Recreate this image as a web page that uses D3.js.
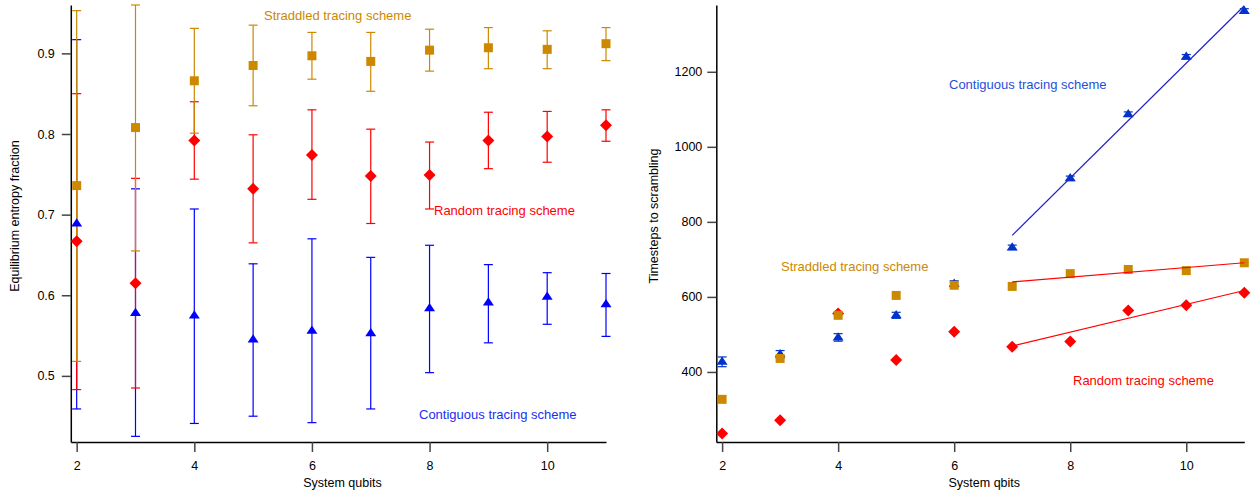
<!DOCTYPE html>
<html>
<head>
<meta charset="utf-8">
<script src="https://cdn.jsdelivr.net/npm/d3@7"></script>
<style>
  body { margin: 0; background: #fff; }
  text { font-family: Arial, "Liberation Sans", sans-serif; }
</style>
</head>
<body>
<div id="chart"></div>
<script>
var width = 1258,
    height = 491;

// system size (qubits)
var qubits = [2, 3, 4, 5, 6, 7, 8, 9, 10, 11];

// left panel: equilibrium entropy fraction, mean and error bar ends
var straddledFrac = [0.736, 0.808, 0.866, 0.885, 0.897, 0.890, 0.904, 0.907, 0.905, 0.912];
var straddledHi   = [0.953, 0.960, 0.931, 0.935, 0.926, 0.926, 0.930, 0.932, 0.928, 0.932];
var straddledLo   = [0.518, 0.655, 0.801, 0.835, 0.868, 0.853, 0.878, 0.881, 0.881, 0.891];

var randomFrac = [0.667, 0.615, 0.792, 0.732, 0.774, 0.748, 0.749, 0.792, 0.797, 0.811];
var randomHi   = [0.850, 0.745, 0.840, 0.799, 0.830, 0.806, 0.790, 0.827, 0.828, 0.830];
var randomLo   = [0.483, 0.485, 0.744, 0.665, 0.719, 0.689, 0.707, 0.757, 0.765, 0.791];

var contigFrac = [0.689, 0.578, 0.575, 0.545, 0.556, 0.553, 0.584, 0.591, 0.598, 0.589];
var contigHi   = [0.917, 0.732, 0.707, 0.639, 0.670, 0.647, 0.662, 0.638, 0.628, 0.627];
var contigLo   = [0.459, 0.425, 0.441, 0.450, 0.442, 0.459, 0.504, 0.541, 0.564, 0.549];

// right panel: timesteps to scrambling
var contigSteps    = [427, 447, 492, 551, 635, 732, 916, 1087, 1240, 1362];
var contigStepsErr = [13, 10, 10, 8, 8, 6, 6, 6, 6, 6];
var straddledSteps = [327, 436, 551, 604, 631, 628, 662, 673, 670, 691];
var randomSteps    = [236, 271, 556, 432, 507, 467, 481, 564, 578, 611];

// fitted lines (end points)
var contigFit    = [[7, 764], [11, 1376]];
var straddledFit = [[7, 640], [11, 691]];
var randomFit    = [[7, 469], [11, 617]];

var fracTicks = [0.5, 0.6, 0.7, 0.8, 0.9];
var stepTicks = [400, 600, 800, 1000, 1200];
var qubitTicks = [2, 4, 6, 8, 10];

var gold = "#cc8800", red = "#ff0000", blue = "#0000ff", blue2 = "#0033cc";

var svg = d3.select("#chart").append("svg")
    .attr("width", width)
    .attr("height", height);

// marker shapes
function square(s) { return "M" + (-s) + "," + (-s) + "h" + 2 * s + "v" + 2 * s + "h" + (-2 * s) + "Z"; }
function diamond(s) { return "M0," + (-s) + "L" + s + ",0L0," + s + "L" + (-s) + ",0Z"; }
function triangle(s) { return "M0," + (-s * 1.05) + "L" + (s * 1.1) + "," + (s * 0.6) + "L" + (-s * 1.1) + "," + (s * 0.6) + "Z"; }

function rows(means, lo, hi) {
    return qubits.map(function (q, i) {
        return {q: q, v: means[i], lo: lo ? lo[i] : null, hi: hi ? hi[i] : null};
    });
}

function drawAxes(g, x, y, yTicks, yFmt, yPad, xTitle, yTitle, titleX) {
    var xAxis = g.append("g")
        .attr("transform", "translate(0," + y.range()[0] + ")")
        .call(d3.axisBottom(x).tickValues(qubitTicks).tickSize(10).tickSizeOuter(0).tickPadding(9));
    var yAxis = g.append("g")
        .attr("transform", "translate(" + x.range()[0] + ",0)")
        .call(d3.axisLeft(y).tickValues(yTicks).tickFormat(yFmt).tickSize(9).tickSizeOuter(0).tickPadding(yPad));
    [xAxis, yAxis].forEach(function (a) {
        a.select(".domain").attr("stroke", "#000").attr("stroke-width", 1.5);
        a.selectAll(".tick line").attr("stroke", "#444").attr("stroke-width", 1.5);
        a.selectAll(".tick text").attr("fill", "#000").style("font-size", "12.5px")
            .style("font-family", "Arial, 'Liberation Sans', sans-serif");
    });
    var xm = (x.range()[0] + x.range()[1]) / 2;
    g.append("text")
        .attr("x", xm + 4).attr("y", 487)
        .attr("text-anchor", "middle")
        .style("font-size", "12.5px")
        .text(xTitle);
    g.append("text")
        .attr("transform", "translate(" + titleX + ",216) rotate(-90)")
        .attr("text-anchor", "middle")
        .style("font-size", "12.5px")
        .text(yTitle);
}

function drawErrors(g, data, x, y, color, cap) {
    var eb = g.append("g").attr("stroke", color).attr("stroke-width", 1.2).attr("fill", "none");
    data.forEach(function (d) {
        var cx = x(d.q);
        eb.append("line").attr("x1", cx).attr("x2", cx).attr("y1", y(d.lo)).attr("y2", y(d.hi));
        eb.append("line").attr("x1", cx - cap).attr("x2", cx + cap).attr("y1", y(d.lo)).attr("y2", y(d.lo));
        eb.append("line").attr("x1", cx - cap).attr("x2", cx + cap).attr("y1", y(d.hi)).attr("y2", y(d.hi));
    });
}

function drawMarkers(g, data, x, y, color, shape) {
    g.append("g").selectAll("path")
        .data(data)
        .enter().append("path")
        .attr("transform", function (d) { return "translate(" + x(d.q) + "," + y(d.v) + ")"; })
        .attr("d", shape)
        .attr("fill", color);
}

function label(g, x, y, txt, color) {
    g.append("text")
        .attr("x", x).attr("y", y)
        .attr("fill", color)
        .style("font-size", "13px")
        .text(txt);
}

// ---------- left panel ----------
var left = svg.append("g");
var xL = d3.scaleLinear().domain([1.9, 11]).range([70.8, 606]);
var yL = d3.scaleLinear().domain([0.418, 0.96]).range([442, 5]);

drawAxes(left, xL, yL, fracTicks, d3.format(".1f"), 7, "System qubits", "Equilibrium entropy fraction", 19);

var contigL = rows(contigFrac, contigLo, contigHi);
var randomL = rows(randomFrac, randomLo, randomHi);
var straddledL = rows(straddledFrac, straddledLo, straddledHi);

drawErrors(left, contigL, xL, yL, blue, 4.5);
drawErrors(left, randomL, xL, yL, red, 4.5);
drawErrors(left, straddledL, xL, yL, gold, 4.5);
drawMarkers(left, contigL, xL, yL, blue, triangle(5));
drawMarkers(left, randomL, xL, yL, red, diamond(6));
drawMarkers(left, straddledL, xL, yL, gold, square(4.5));

label(left, 264, 20, "Straddled tracing scheme", gold);
label(left, 434, 215, "Random tracing scheme", red);
label(left, 419, 419, "Contiguous tracing scheme", "#1a2fee");

// ---------- right panel ----------
var right = svg.append("g");
var xR = d3.scaleLinear().domain([1.9, 11]).range([716.3, 1244.3]);
var yR = d3.scaleLinear().domain([213.3, 1378]).range([442, 5]);

drawAxes(right, xR, yR, stepTicks, d3.format("d"), 5, "System qbits", "Timesteps to scrambling", 658);

var contigR = qubits.map(function (q, i) {
    return {q: q, v: contigSteps[i], lo: contigSteps[i] - contigStepsErr[i], hi: contigSteps[i] + contigStepsErr[i]};
});
var randomR = rows(randomSteps);
var straddledR = rows(straddledSteps);

drawMarkers(right, randomR, xR, yR, red, diamond(6));
drawErrors(right, contigR, xR, yR, blue2, 4.5);
drawMarkers(right, contigR, xR, yR, blue2, triangle(5));
drawMarkers(right, straddledR, xR, yR, gold, square(4.5));

var fitLine = d3.line()
    .x(function (d) { return xR(d[0]); })
    .y(function (d) { return yR(d[1]); });

right.append("path").datum(contigFit).attr("d", fitLine)
    .attr("stroke", "#2222cc").attr("stroke-width", 1.2).attr("fill", "none");
right.append("path").datum(straddledFit).attr("d", fitLine)
    .attr("stroke", red).attr("stroke-width", 1.2).attr("fill", "none");
right.append("path").datum(randomFit).attr("d", fitLine)
    .attr("stroke", red).attr("stroke-width", 1.2).attr("fill", "none");

label(right, 949, 89, "Contiguous tracing scheme", "#1f4fdb");
label(right, 781, 271, "Straddled tracing scheme", gold);
label(right, 1073, 385, "Random tracing scheme", red);
</script>
</body>
</html>
